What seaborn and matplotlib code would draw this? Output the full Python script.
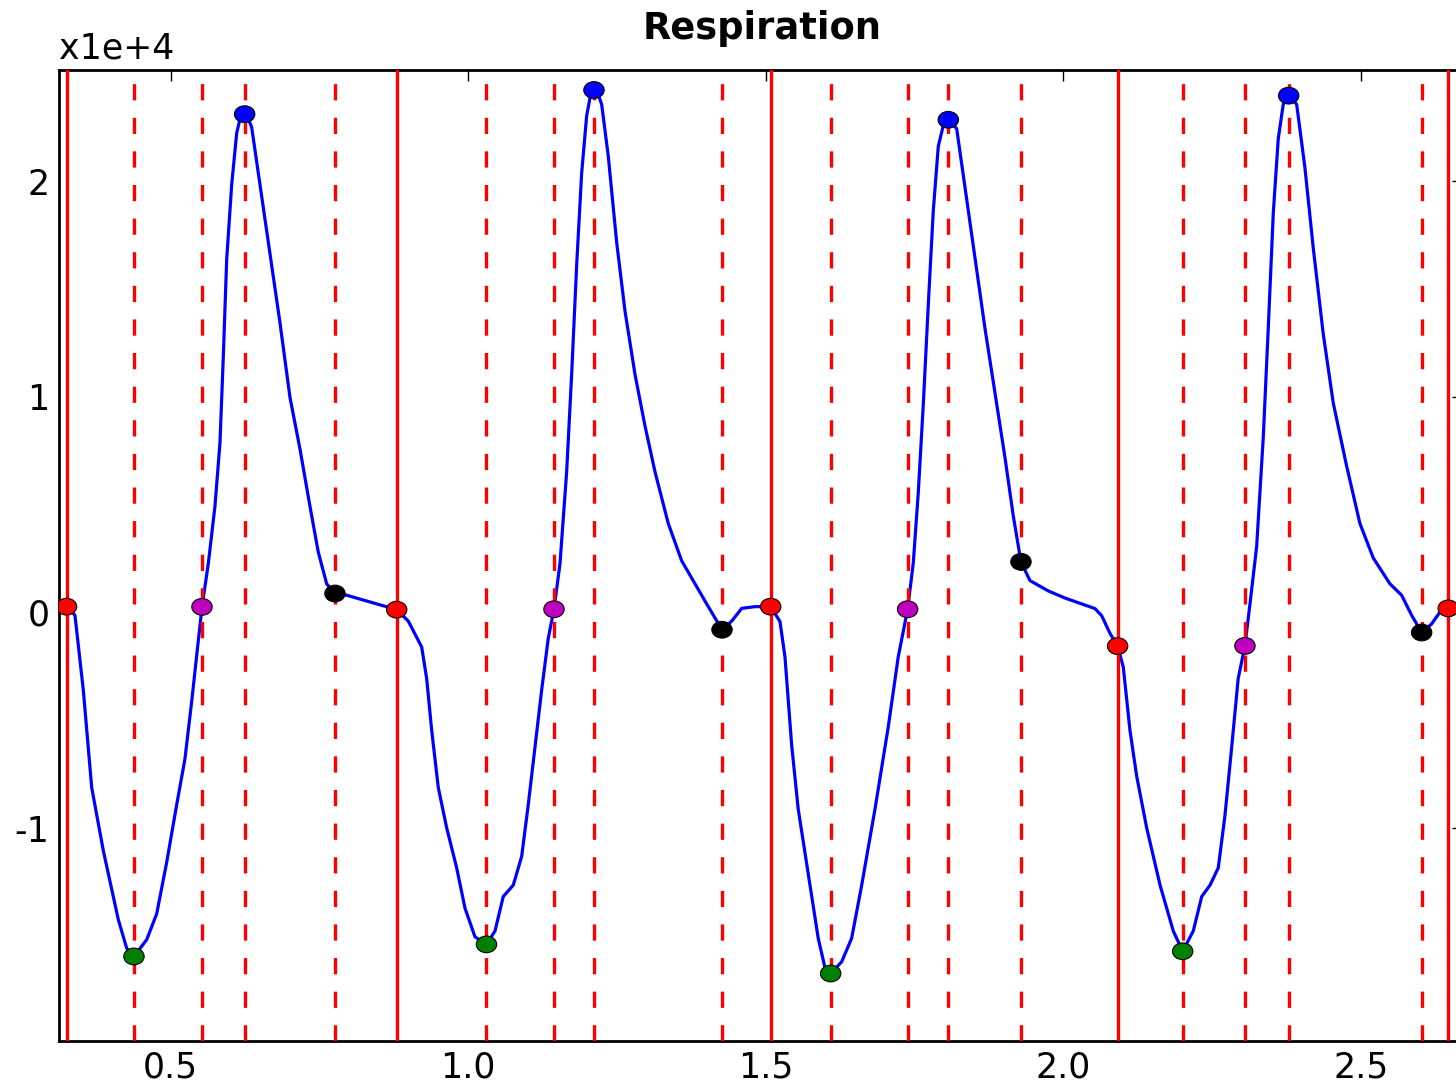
import numpy as np
import pandas as pd
import matplotlib
matplotlib.use("Agg")
import matplotlib.pyplot as plt
import seaborn as sns
from matplotlib.path import Path
from matplotlib.transforms import Affine2D
from matplotlib.ticker import FuncFormatter, MultipleLocator, FormatStrFormatter

# Respiration trace (time in s, amplitude in raw units)
curve_t = [
    0.3250, 0.3392, 0.3532, 0.3673, 0.3868, 0.4120, 0.4261, 0.4383, 0.4597, 0.4765,
    0.4933, 0.5101, 0.5240, 0.5353, 0.5437, 0.5526, 0.5632, 0.5744, 0.5828, 0.5884,
    0.5941, 0.6025, 0.6109, 0.6165, 0.6243, 0.6304, 0.6361, 0.6500, 0.6668, 0.6836,
    0.7004, 0.7172, 0.7340, 0.7480, 0.7621, 0.7760, 0.7957, 0.8293, 0.8797,
    0.8992, 0.9217, 0.9301, 0.9385, 0.9496, 0.9637, 0.9805, 0.9945, 1.0113, 1.0306,
    1.0449, 1.0588, 1.0756, 1.0897, 1.1008, 1.1121, 1.1233, 1.1344, 1.1440, 1.1541,
    1.1653, 1.1737, 1.1821, 1.1905, 1.1989, 1.2050, 1.2112, 1.2180, 1.2241, 1.2352,
    1.2493, 1.2633, 1.2801, 1.2969, 1.3137, 1.3360, 1.3585, 1.3837, 1.4005, 1.4263,
    1.4426, 1.4594, 1.4817, 1.5081,
    1.5237, 1.5321, 1.5433, 1.5544, 1.5712, 1.5880, 1.5993, 1.6089, 1.6273, 1.6441,
    1.6609, 1.6833, 1.7056, 1.7224, 1.7382, 1.7477, 1.7561, 1.7645, 1.7729, 1.7813,
    1.7897, 1.7981, 1.8065, 1.8206, 1.8345, 1.8513, 1.8681, 1.8849, 1.9017, 1.9157,
    1.9286, 1.9437, 1.9745, 2.0026, 2.0306, 2.0530, 2.0642, 2.0782, 2.0910,
    2.1005, 2.1117, 2.1230, 2.1398, 2.1623, 2.1845, 2.2003, 2.2181, 2.2323, 2.2463,
    2.2601, 2.2712, 2.2826, 2.2936, 2.3049, 2.3134, 2.3246, 2.3357, 2.3441, 2.3525,
    2.3609, 2.3693, 2.3784, 2.3918, 2.4057, 2.4197, 2.4365, 2.4533, 2.4758, 2.4981,
    2.5205, 2.5485, 2.5682, 2.5850, 2.6018, 2.6186, 2.6354, 2.6465,
]
curve_v = [
    270, -130, -3600, -8120, -11050, -14250, -15580, -15960, -15180, -13980,
    -11590, -8920, -6790, -4130, -2000, 260, 2260, 4930, 7860, 11860,
    16380, 19850, 22240, 22910, 23120, 22910, 22510, 19850, 16650, 13450,
    9990, 7590, 4930, 2800, 1330, 880, 800, 530, 130,
    -400, -1600, -3060, -5460, -8120, -9990, -11850, -13720, -15050, -15400,
    -14780, -13180, -12650, -11320, -8920, -6260, -3600, -1200, 150, 2260,
    6530, 11050, 16110, 20380, 23040, 23950, 24240, 24050, 23580, 21180,
    17180, 13990, 11050, 8660, 6530, 4130, 2400, 1200, 400, -800,
    -400, 190, 270, 270,
    -420, -2060, -6140, -9130, -12130, -15120, -16480, -16750, -16210, -15120,
    -12670, -9130, -5320, -2060, 150, 2300, 5570, 9650, 14280, 18640,
    21630, 22590, 22860, 22450, 19730, 16460, 13190, 10200, 7200, 4480,
    2350, 1480, 1000, 670, 400, 180, -150, -970, -1560,
    -2530, -5460, -7590, -9990, -12650, -14780, -15720, -14780, -13180, -12650,
    -11850, -9460, -6260, -3060, -1550, 400, 3060, 8120, 13190, 18510,
    21980, 23580, 23980, 23580, 20640, 16910, 12920, 9720, 6790, 4130,
    2530, 1330, 800, -130, -930, -530, 130, 190,
]

# Detected respiratory events
onset_t = [0.3250, 0.8797, 1.5081, 2.0910, 2.6465]
onset_v = [270, 130, 270, -1560, 190]
trough_t = [0.4383, 1.0306, 1.6089, 2.2003]
trough_v = [-15960, -15400, -16750, -15720]
mid_t = [0.5526, 1.1440, 1.7382, 2.3049]
mid_v = [260, 150, 150, -1550]
peak_t = [0.6243, 1.2112, 1.8065, 2.3784]
peak_v = [23120, 24240, 22860, 23980]
end_t = [0.7760, 1.4263, 1.9286, 2.6018]
end_v = [880, -800, 2350, -930]

event_colors = {"onset": "#ff0000", "trough": "#008000", "mid": "#bf00bf",
                "peak": "#0000ff", "end": "#000000"}

sns.set_theme(style="white")
plt.rcParams["font.family"] = ["DejaVu Sans"]
plt.rcParams["lines.scale_dashes"] = False

fig = plt.figure(figsize=(14.56, 10.85), dpi=100)
ax = fig.add_axes([0.0407, 0.0408, 0.9655, 0.8947])

trace = pd.DataFrame({"t": curve_t, "v": curve_v})
sns.lineplot(data=trace, x="t", y="v", sort=False, estimator=None,
             color="#0000ff", linewidth=2.3, ax=ax, zorder=2)

for t in onset_t:
    ax.axvline(t, color="#ff0000", linewidth=2.4, zorder=3)
for t in trough_t + mid_t + peak_t + end_t:
    ax.axvline(t, color="#ff0000", linewidth=2.4, linestyle=(0, (11.7, 12.5)), zorder=3)

events = pd.DataFrame({
    "t": onset_t + trough_t + mid_t + peak_t + end_t,
    "v": onset_v + trough_v + mid_v + peak_v + end_v,
    "kind": (["onset"] * len(onset_t) + ["trough"] * len(trough_t) + ["mid"] * len(mid_t)
             + ["peak"] * len(peak_t) + ["end"] * len(end_t)),
})
ellipse = Path.unit_circle().transformed(Affine2D().scale(1.0, 0.82))
sns.scatterplot(data=events, x="t", y="v", hue="kind", palette=event_colors,
                marker=ellipse, s=215, edgecolor="black", linewidth=0.8,
                legend=False, ax=ax, zorder=4)

ax.set_xlim(0.3128, 2.6747)
ax.set_ylim(-19870, 25170)
ax.xaxis.set_major_locator(MultipleLocator(0.5))
ax.xaxis.set_major_formatter(FormatStrFormatter("%.1f"))
ax.yaxis.set_major_locator(MultipleLocator(10000))
ax.yaxis.set_major_formatter(FuncFormatter(lambda val, pos: f"{val / 1e4:g}"))
ax.tick_params(direction="in", top=True, right=True, width=1.0,
               color="black", labelsize=25, labelcolor="black", pad=7)
ax.tick_params(axis="x", length=8)
ax.tick_params(axis="y", length=9.5)
ax.set_xlabel("")
ax.set_ylabel("")
for sp in ax.spines.values():
    sp.set_color("black")
    sp.set_linewidth(2.0)
    sp.set_visible(True)

ax.text(0.0, 1.012, "x1e+4", transform=ax.transAxes, ha="left", va="baseline",
        fontsize=25, color="black")
ax.set_title("Respiration", fontsize=26.5, fontweight="bold", pad=22, color="black")

fig.savefig("out.png", dpi=100)
